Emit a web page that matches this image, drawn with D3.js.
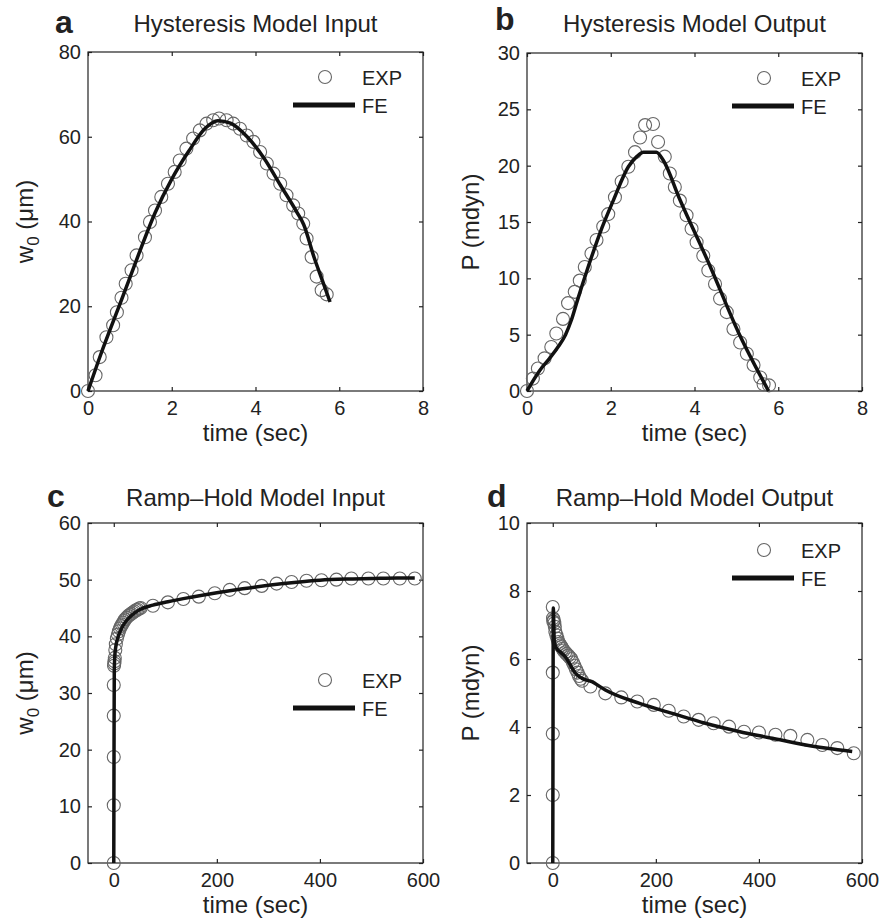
<!DOCTYPE html>
<html>
<head>
<meta charset="utf-8">
<script src="https://cdn.jsdelivr.net/npm/d3@7"></script>
<style>
  body { margin: 0; background: #fff; }
  svg text { font-family: "Liberation Sans", Arial, Helvetica, sans-serif; fill: #222; }
</style>
</head>
<body>
<div id="chart"></div>
<script>
// panel a: hysteresis input
var aExpTime = [0, 0.18, 0.28, 0.44, 0.60, 0.69, 0.80, 0.90, 1.04, 1.16, 1.36, 1.48, 1.60, 1.75, 1.91, 2.07, 2.19, 2.35, 2.51, 2.67, 2.83, 2.99, 3.13, 3.31, 3.47, 3.63, 3.79, 3.95, 4.11, 4.27, 4.43, 4.59, 4.74, 4.90, 5.02, 5.14, 5.22, 5.34, 5.46, 5.58, 5.70];
var aExpW = [0, 3.7, 8.0, 12.7, 15.5, 18.6, 22.0, 25.3, 28.5, 32.0, 36.3, 39.9, 42.6, 45.8, 48.9, 51.7, 54.4, 57.2, 59.6, 61.5, 63.1, 63.9, 64.3, 63.9, 63.1, 61.9, 60.3, 58.8, 56.4, 53.7, 51.3, 48.9, 46.2, 43.8, 41.9, 39.5, 36.0, 31.6, 27.0, 23.8, 22.8];
var aFeTime = [0, 0.3, 0.8, 1.2, 1.6, 2.0, 2.4, 2.8, 3.1, 3.4, 3.8, 4.2, 4.6, 5.0, 5.15, 5.4, 5.6, 5.78];
var aFeW = [0, 8.5, 21.5, 32, 42, 50, 56.5, 62, 63.8, 63.2, 60, 55, 48.5, 42, 39.3, 31.5, 26, 21];

// panel b: hysteresis output
var bExpTime = [0, 0.14, 0.26, 0.42, 0.58, 0.70, 0.86, 0.98, 1.14, 1.26, 1.38, 1.54, 1.66, 1.82, 1.94, 2.10, 2.26, 2.42, 2.58, 2.70, 2.82, 3.01, 3.13, 3.29, 3.41, 3.53, 3.65, 3.81, 3.93, 4.05, 4.21, 4.33, 4.49, 4.61, 4.77, 4.93, 5.09, 5.25, 5.41, 5.57, 5.65, 5.78];
var bExpP = [0, 1.1, 2.0, 2.9, 3.9, 5.1, 6.4, 7.8, 8.8, 9.8, 11.0, 12.2, 13.4, 14.6, 15.7, 17.2, 18.6, 19.9, 21.2, 22.5, 23.6, 23.7, 22.1, 20.8, 19.3, 18.1, 16.9, 15.6, 14.4, 13.2, 12.0, 10.7, 9.5, 8.2, 7.0, 5.5, 4.3, 3.3, 2.3, 1.2, 0.6, 0.5];
var bFeTime = [0, 0.3, 0.54, 0.74, 0.92, 1.06, 1.20, 1.46, 1.74, 2.06, 2.42, 2.62, 2.78, 3.09, 3.25, 3.65, 4.37, 5.05, 5.77];
var bFeP = [0, 1.8, 2.9, 3.9, 5.0, 6.3, 8.0, 11.0, 14.0, 16.9, 19.9, 20.8, 21.2, 21.2, 20.5, 17.0, 11.1, 5.2, 0];

// panel c: ramp-hold input
var cExpTime = [0, 0, 0, 0, 0, 0.5, 1, 1.5, 2, 3, 4, 6, 8, 10, 12, 14, 16, 18, 20, 22, 25, 28, 31, 34, 37, 40, 43, 46, 49, 52, 76, 105, 135, 165, 196, 225, 254, 287, 316, 345, 374, 403, 432, 461, 494, 523, 555, 584];
var cExpW = [0, 10.2, 18.7, 26, 31.4, 34.8, 35.2, 35.6, 36.2, 37.6, 38.6, 39.6, 40.3, 40.9, 41.4, 41.8, 42.1, 42.4, 42.7, 43.0, 43.3, 43.6, 43.8, 44.0, 44.2, 44.4, 44.6, 44.7, 44.9, 45.0, 45.4, 46.0, 46.6, 47.0, 47.6, 48.2, 48.5, 48.9, 49.3, 49.6, 49.8, 49.9, 50.0, 50.2, 50.2, 50.2, 50.2, 50.2];
var cFeTime = [0, 0.5, 1, 2, 4, 8, 12, 20, 30, 40, 50, 76, 105, 150, 200, 250, 300, 350, 400, 450, 500, 550, 584];
var cFeW = [0, 20, 34, 36.5, 38.2, 39.8, 40.8, 42.2, 43.3, 44.1, 44.7, 45.5, 46.1, 46.9, 47.7, 48.4, 49.0, 49.5, 49.9, 50.1, 50.2, 50.3, 50.3];

// panel d: ramp-hold output
var dExpTime = [0, 0, 0, 0, 0, 0.5, 1, 2, 3, 4, 5, 7, 9, 11, 13, 15, 17, 19, 21, 24, 27, 30, 33, 36, 39, 42, 45, 48, 51, 54, 57, 73, 102, 133, 164, 196, 225, 254, 283, 312, 342, 371, 400, 432, 461, 494, 523, 552, 584];
var dExpP = [0, 2.0, 3.8, 5.6, 7.53, 7.2, 7.1, 7.15, 7.05, 6.95, 6.8, 6.7, 6.6, 6.5, 6.45, 6.4, 6.35, 6.3, 6.25, 6.2, 6.15, 6.1, 6.05, 6.0, 5.9, 5.8, 5.7, 5.6, 5.5, 5.42, 5.36, 5.19, 4.99, 4.87, 4.75, 4.65, 4.48, 4.31, 4.21, 4.11, 4.01, 3.86, 3.84, 3.77, 3.74, 3.62, 3.47, 3.38, 3.23];
var dFeTime = [0, 0.5, 1, 3, 8, 15, 25, 35, 44, 57, 76, 102, 167, 232, 296, 361, 426, 491, 581];
var dFeP = [0, 4, 7.5, 6.5, 6.3, 6.2, 6.05, 5.8, 5.58, 5.43, 5.33, 5.09, 4.70, 4.40, 4.11, 3.87, 3.67, 3.47, 3.28];

var hystTimeTicks = [0, 2, 4, 6, 8];
var rampTimeTicks = [0, 200, 400, 600];
var legendLabels = ["EXP", "FE"];

var width = 881, height = 923;
var svg = d3.select("#chart").append("svg")
    .attr("width", width)
    .attr("height", height);
svg.append("rect").attr("width", width).attr("height", height).attr("fill", "#fff");

var zip = function(xs, ys) { return xs.map(function(x, i) { return [x, ys[i]]; }); };

var panels = [
  { letter: "a", title: "Hysteresis Model Input", ylab: "w", sub: "0", unit: " (\u03bcm)",
    box: [88, 423, 52, 391], xDom: [0, 8], yDom: [0, 80], xTicks: hystTimeTicks, yTicks: [0, 20, 40, 60, 80],
    exp: zip(aExpTime, aExpW), fe: zip(aFeTime, aFeW), letterPos: [55, 33], titleY: 32, legY: 25, ylabX: 33 },
  { letter: "b", title: "Hysteresis Model Output", ylab: "P (mdyn)",
    box: [527, 862, 53, 391], xDom: [0, 8], yDom: [0, 30], xTicks: hystTimeTicks, yTicks: [0, 5, 10, 15, 20, 25, 30],
    exp: zip(bExpTime, bExpP), fe: zip(bFeTime, bFeP), letterPos: [495, 30], titleY: 32, legY: 25, ylabX: 479 },
  { letter: "c", title: "Ramp\u2013Hold Model Input", ylab: "w", sub: "0", unit: " (\u03bcm)",
    box: [88, 423, 523, 863], xDom: [-50, 600], yDom: [0, 60], xTicks: rampTimeTicks, yTicks: [0, 10, 20, 30, 40, 50, 60],
    exp: zip(cExpTime, cExpW), fe: zip(cFeTime, cFeW), letterPos: [47, 507], titleY: 506, legY: 157, ylabX: 33 },
  { letter: "d", title: "Ramp\u2013Hold Model Output", ylab: "P (mdyn)",
    box: [527, 862, 523, 863], xDom: [-50, 600], yDom: [0, 10], xTicks: rampTimeTicks, yTicks: [0, 2, 4, 6, 8, 10],
    exp: zip(dExpTime, dExpP), fe: zip(dFeTime, dFeP), letterPos: [487, 507], titleY: 506, legY: 27, ylabX: 479 }
];

panels.forEach(function(p) {
  var x0 = p.box[0], x1 = p.box[1], y0 = p.box[2], y1 = p.box[3];
  var x = d3.scaleLinear().domain(p.xDom).range([x0, x1]);
  var y = d3.scaleLinear().domain(p.yDom).range([y1, y0]);
  var g = svg.append("g");

  // axes, ticks pointing inward on all four sides
  var bottom = g.append("g").attr("transform", "translate(0," + y1 + ")")
      .call(d3.axisBottom(x).tickValues(p.xTicks).tickSize(-4).tickPadding(10));
  var left = g.append("g").attr("transform", "translate(" + x0 + ",0)")
      .call(d3.axisLeft(y).tickValues(p.yTicks).tickSize(-4).tickPadding(7));
  var top = g.append("g").attr("transform", "translate(0," + y0 + ")")
      .call(d3.axisTop(x).tickValues(p.xTicks).tickSize(-4).tickFormat(""));
  var right = g.append("g").attr("transform", "translate(" + x1 + ",0)")
      .call(d3.axisRight(y).tickValues(p.yTicks).tickSize(-4).tickFormat(""));
  [bottom, left, top, right].forEach(function(a) {
    a.select(".domain").remove();
    a.selectAll("line").attr("stroke", "#222").attr("stroke-width", 1.2);
    a.selectAll("text").style("font-size", "20px").attr("fill", "#222");
  });
  g.append("rect")
      .attr("x", x0).attr("y", y0)
      .attr("width", x1 - x0).attr("height", y1 - y0)
      .attr("fill", "none").attr("stroke", "#222").attr("stroke-width", 1.2);

  // EXP circles
  g.selectAll(".exp").data(p.exp).enter().append("circle")
      .attr("class", "exp")
      .attr("cx", function(d) { return x(d[0]); })
      .attr("cy", function(d) { return y(d[1]); })
      .attr("r", 6.5)
      .attr("fill", "none").attr("stroke", "#666").attr("stroke-width", 1.1);

  // FE line
  var line = d3.line().curve(d3.curveMonotoneX)
      .x(function(d) { return x(d[0]); }).y(function(d) { return y(d[1]); });
  g.append("path").datum(p.fe)
      .attr("d", line)
      .attr("fill", "none").attr("stroke", "#111").attr("stroke-width", 3.5)
      .attr("stroke-linejoin", "round");

  // legend
  var ly = y0 + p.legY;
  g.append("circle").attr("cx", x1 - 98).attr("cy", ly).attr("r", 6.5)
      .attr("fill", "none").attr("stroke", "#666").attr("stroke-width", 1.1);
  g.append("text").attr("x", x1 - 61).attr("y", ly + 8).style("font-size", "20px").text(legendLabels[0]);
  g.append("line").attr("x1", x1 - 130).attr("x2", x1 - 68).attr("y1", ly + 28).attr("y2", ly + 28)
      .attr("stroke", "#111").attr("stroke-width", 5);
  g.append("text").attr("x", x1 - 61).attr("y", ly + 36).style("font-size", "20px").text(legendLabels[1]);

  // titles and labels
  g.append("text").attr("x", (x0 + x1) / 2).attr("y", p.titleY)
      .attr("text-anchor", "middle").style("font-size", "24px").text(p.title);
  g.append("text").attr("x", p.letterPos[0]).attr("y", p.letterPos[1])
      .style("font-size", "32px").style("font-weight", "bold").text(p.letter);
  g.append("text").attr("x", (x0 + x1) / 2).attr("y", y1 + 50)
      .attr("text-anchor", "middle").style("font-size", "24px").text("time (sec)");

  var yl = g.append("text")
      .attr("transform", "translate(" + p.ylabX + "," + ((y0 + y1) / 2) + ") rotate(-90)")
      .attr("text-anchor", "middle").style("font-size", "24px");
  if (p.sub) {
    yl.append("tspan").text(p.ylab);
    yl.append("tspan").attr("dy", 6).style("font-size", "17px").text(p.sub);
    yl.append("tspan").attr("dy", -6).text(p.unit);
  } else {
    yl.text(p.ylab);
  }
});
</script>
</body>
</html>
